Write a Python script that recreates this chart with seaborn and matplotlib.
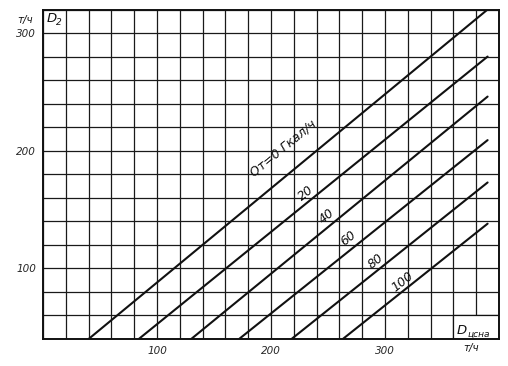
import matplotlib
matplotlib.use("Agg")
import matplotlib.pyplot as plt
import seaborn as sns
import pandas as pd
import numpy as np

# ---- data ----
heat_loads = [0, 20, 40, 60, 80, 100]              # Qт, Гкал/ч
x_start = [40, 84, 130, 172, 218, 263]              # Dцсна where line meets D2 = 40
y_start = [40, 40, 40, 40, 40, 40]
x_end = [390, 390, 390, 390, 390, 390]
y_end = [320, 280, 246, 209, 173, 138]              # D2 at line end
line_labels = ["Qт=0 Гкал/ч", "20", "40", "60", "80", "100"]
label_x = [211, 231, 249, 268, 292, 315]
label_y = [202, 164, 144, 126, 106, 89]
x_tick_labels = ["100", "200", "300"]
y_tick_labels = ["100", "200", "300"]

rows = []
for q, xs, ys, xe, ye in zip(heat_loads, x_start, y_start, x_end, y_end):
    rows.append({"Q": q, "Dcsna": xs, "D2": ys})
    rows.append({"Q": q, "Dcsna": xe, "D2": ye})
df = pd.DataFrame(rows)

sns.set_style("white")
plt.rcParams["font.family"] = ["DejaVu Sans"]

fig = plt.figure(figsize=(5.08, 3.66), dpi=100)
ax = fig.add_axes([43 / 508, 1 - 339 / 366, (499 - 43) / 508, (339 - 9.5) / 366])

sns.lineplot(data=df, x="Dcsna", y="D2", units="Q", estimator=None,
             color="#111111", lw=1.5, ax=ax, legend=False, zorder=3)

ax.set_xlim(0, 400)
ax.set_ylim(40, 320)
ax.set_xticks(np.arange(0, 401, 20), minor=True)
ax.set_yticks(np.arange(40, 321, 20), minor=True)
ax.set_xticks([100, 200, 300])
ax.set_yticks([100, 200, 300])
ax.set_xticklabels(x_tick_labels, fontsize=7.5, style="italic")
ax.set_yticklabels(y_tick_labels, fontsize=7.5, style="italic")
ax.grid(True, which="both", color="#1a1a1a", lw=0.9, zorder=1)
ax.tick_params(which="minor", length=0)
ax.tick_params(which="major", length=3, width=0.9, color="#111111", pad=2)
ax.set_xlabel("")
ax.set_ylabel("")
for s in ax.spines.values():
    s.set_color("#111111")
    s.set_linewidth(1.4)

# line labels, rotated along the lines
for i, (txt, lx, ly) in enumerate(zip(line_labels, label_x, label_y)):
    a = ax.transData.transform((x_start[i], y_start[i]))
    b = ax.transData.transform((x_end[i], y_end[i]))
    ang = np.degrees(np.arctan2(b[1] - a[1], b[0] - a[0]))
    ax.text(lx, ly, txt, rotation=ang, rotation_mode="anchor",
            ha="center", va="center", fontsize=9, style="italic",
            color="#111111", zorder=4)

# axis titles
ax.add_patch(plt.Rectangle((360, 40), 40, 20, facecolor="white",
                           edgecolor="#111111", lw=0.9, zorder=2))
ax.text(363, 47, "D", fontsize=9.5, style="italic", ha="left", va="center",
        color="#111111", zorder=4)
ax.text(372, 44, "цсна", fontsize=6.5, style="italic", ha="left", va="center",
        color="#111111", zorder=4)
fig.text(471 / 508, 1 - 348 / 366, "т/ч", fontsize=7.5, style="italic",
         ha="center", va="center", color="#111111")
fig.text(25 / 508, 1 - 20 / 366, "т/ч", fontsize=7.5, style="italic",
         ha="center", va="center", color="#111111")
ax.text(3, 312, "D", fontsize=9.5, style="italic", ha="left", va="center",
        color="#111111", zorder=4)
ax.text(11, 309, "2", fontsize=6.5, style="italic", ha="left", va="center",
        color="#111111", zorder=4)

fig.savefig("out.png", dpi=100)
